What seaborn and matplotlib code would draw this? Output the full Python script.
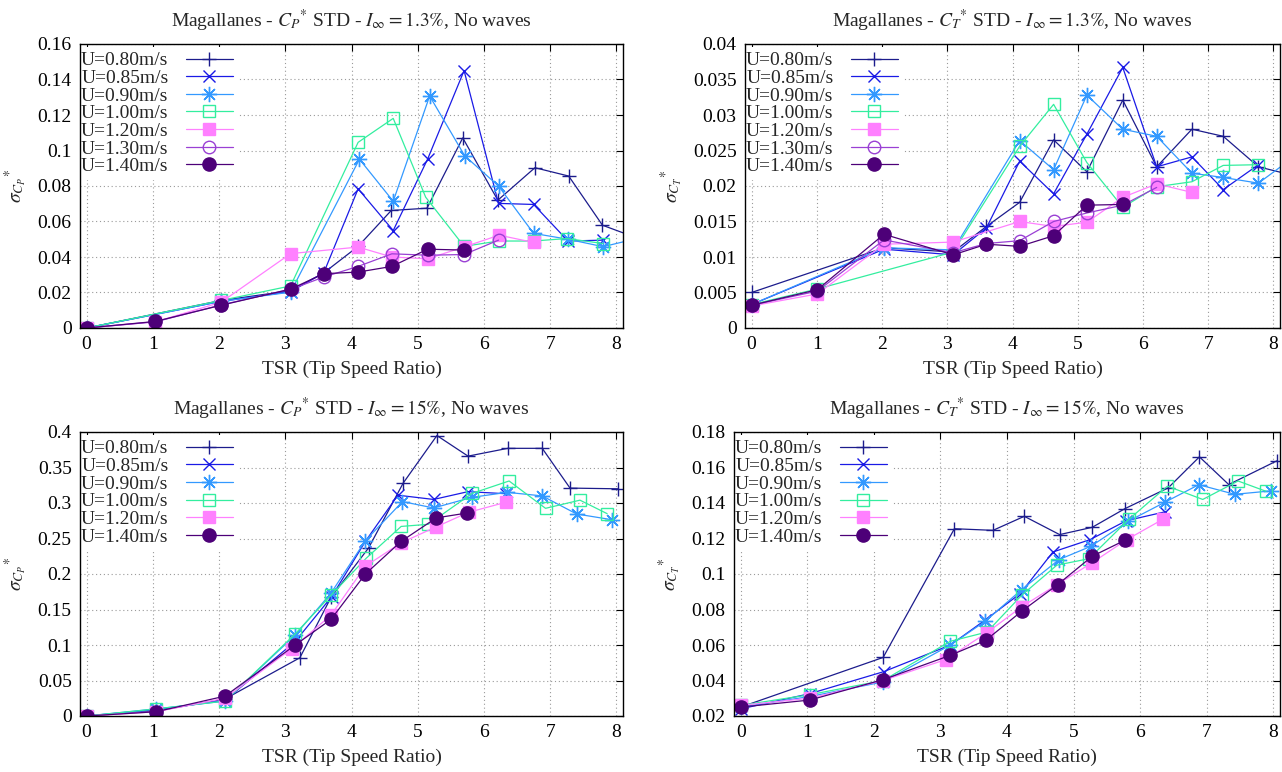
import matplotlib
matplotlib.use("Agg")
import matplotlib.pyplot as plt
import seaborn as sns
from matplotlib.ticker import MultipleLocator, FuncFormatter

# ---------------------------------------------------------------- data
SPEEDS = ["U=0.80m/s", "U=0.85m/s", "U=0.90m/s", "U=1.00m/s",
          "U=1.20m/s", "U=1.30m/s", "U=1.40m/s"]

# C_P* STD, I = 1.3 %
CP_LO_X_080 = [0, 2.03, 3.08, 3.58, 4.10, 4.60, 5.14, 5.68, 6.21, 6.77, 7.28, 7.79, 8.32]
CP_LO_Y_080 = [0, 0.0155, 0.0210, 0.0310, 0.0460, 0.0662, 0.0675, 0.1071, 0.0720, 0.0903, 0.0856, 0.0579, 0.0506]
CP_LO_X_085 = [0, 2.03, 3.08, 3.58, 4.10, 4.63, 5.15, 5.70, 6.22, 6.75, 7.27, 7.80]
CP_LO_Y_085 = [0, 0.0150, 0.0205, 0.0310, 0.0784, 0.0549, 0.0952, 0.1450, 0.0702, 0.0696, 0.0490, 0.0495]
CP_LO_X_090 = [0, 2.03, 3.08, 4.12, 4.63, 5.18, 5.71, 6.22, 6.75, 7.27, 7.80, 8.32]
CP_LO_Y_090 = [0, 0.0150, 0.0202, 0.0951, 0.0714, 0.1307, 0.0970, 0.0800, 0.0533, 0.0500, 0.0458, 0.0505]
CP_LO_X_100 = [0, 2.03, 3.08, 4.10, 4.63, 5.12, 5.70, 6.22, 6.75, 7.25, 7.80]
CP_LO_Y_100 = [0, 0.0155, 0.0237, 0.1046, 0.1181, 0.0737, 0.0460, 0.0490, 0.0490, 0.0504, 0.0476]
CP_LO_X_120 = [0, 1.04, 2.03, 3.08, 4.10, 4.61, 5.15, 5.71, 6.23, 6.75]
CP_LO_Y_120 = [0, 0.0035, 0.0145, 0.0419, 0.0456, 0.0400, 0.0390, 0.0458, 0.0523, 0.0482]
CP_LO_X_130 = [0, 1.04, 2.03, 3.10, 3.58, 4.10, 4.61, 5.15, 5.70, 6.22]
CP_LO_Y_130 = [0, 0.0035, 0.0130, 0.0220, 0.0287, 0.0347, 0.0418, 0.0410, 0.0414, 0.0495]
CP_LO_X_140 = [0, 1.04, 2.03, 3.08, 3.58, 4.10, 4.61, 5.15, 5.70]
CP_LO_Y_140 = [0, 0.0037, 0.0128, 0.0219, 0.0306, 0.0315, 0.0347, 0.0444, 0.0439]

# C_T* STD, I = 1.3 %
CT_LO_X_080 = [0, 2.03, 3.09, 3.60, 4.11, 4.63, 5.14, 5.69, 6.21, 6.75, 7.23, 7.77, 8.30]
CT_LO_Y_080 = [0.0050, 0.0113, 0.0107, 0.0143, 0.0177, 0.0265, 0.0220, 0.0321, 0.0227, 0.0280, 0.0270, 0.0227, 0.0215]
CT_LO_X_085 = [0, 2.03, 3.09, 3.60, 4.11, 4.63, 5.14, 5.69, 6.21, 6.75, 7.23, 7.77]
CT_LO_Y_085 = [0.0033, 0.0111, 0.0103, 0.0141, 0.0235, 0.0189, 0.0273, 0.0367, 0.0227, 0.0241, 0.0195, 0.0230]
CT_LO_X_090 = [0, 2.03, 3.09, 4.11, 4.63, 5.14, 5.69, 6.21, 6.75, 7.23, 7.77, 8.30]
CT_LO_Y_090 = [0.0033, 0.0113, 0.0110, 0.0264, 0.0223, 0.0328, 0.0280, 0.0270, 0.0218, 0.0212, 0.0204, 0.0240]
CT_LO_X_100 = [0, 1.01, 3.09, 4.11, 4.63, 5.14, 5.69, 6.21, 6.75, 7.23, 7.77]
CT_LO_Y_100 = [0.0033, 0.0055, 0.0107, 0.0256, 0.0315, 0.0233, 0.0170, 0.0199, 0.0206, 0.0229, 0.0230]
CT_LO_X_120 = [0, 1.01, 2.03, 3.09, 4.11, 4.63, 5.14, 5.69, 6.21, 6.75]
CT_LO_Y_120 = [0.0031, 0.0048, 0.0118, 0.0121, 0.0150, 0.0143, 0.0149, 0.0184, 0.0203, 0.0191]
CT_LO_X_130 = [0, 1.01, 2.03, 3.09, 3.60, 4.11, 4.63, 5.14, 5.69, 6.21]
CT_LO_Y_130 = [0.0032, 0.0052, 0.0124, 0.0106, 0.0119, 0.0123, 0.0150, 0.0162, 0.0173, 0.0198]
CT_LO_X_140 = [0, 1.01, 2.03, 3.09, 3.60, 4.11, 4.63, 5.14, 5.69]
CT_LO_Y_140 = [0.0032, 0.0054, 0.0132, 0.0103, 0.0118, 0.0115, 0.0130, 0.0173, 0.0174]

# C_P* STD, I = 15 %
CP_HI_X_080 = [0, 1.05, 2.09, 3.22, 3.69, 4.26, 4.78, 5.29, 5.76, 6.36, 6.88, 7.30, 8.02]
CP_HI_Y_080 = [0, 0.007, 0.024, 0.082, 0.167, 0.237, 0.328, 0.395, 0.366, 0.377, 0.377, 0.321, 0.320]
CP_HI_X_085 = [0, 1.05, 2.09, 3.15, 3.70, 4.21, 4.70, 5.24, 5.76, 6.34]
CP_HI_Y_085 = [0, 0.009, 0.022, 0.105, 0.168, 0.246, 0.311, 0.305, 0.316, 0.313]
CP_HI_X_090 = [0, 1.05, 2.09, 3.15, 3.69, 4.21, 4.77, 5.24, 5.82, 6.35, 6.88, 7.40, 7.93]
CP_HI_Y_090 = [0, 0.010, 0.021, 0.114, 0.173, 0.247, 0.302, 0.293, 0.308, 0.315, 0.310, 0.2845, 0.2765]
CP_HI_X_100 = [0, 1.05, 2.09, 3.15, 3.69, 4.22, 4.75, 5.16, 5.82, 6.38, 6.93, 7.45, 7.86]
CP_HI_Y_100 = [0, 0.010, 0.021, 0.1157, 0.170, 0.222, 0.267, 0.270, 0.3135, 0.331, 0.2925, 0.304, 0.285]
CP_HI_X_120 = [0, 1.05, 2.09, 3.10, 3.69, 4.21, 4.75, 5.27, 5.77, 6.33]
CP_HI_Y_120 = [0, 0.006, 0.025, 0.095, 0.142, 0.211, 0.244, 0.266, 0.287, 0.301]
CP_HI_X_140 = [0, 1.05, 2.09, 3.15, 3.69, 4.21, 4.75, 5.28, 5.75]
CP_HI_Y_140 = [0, 0.006, 0.028, 0.100, 0.136, 0.200, 0.246, 0.279, 0.286]

# C_T* STD, I = 15 %
CT_HI_X_080 = [0, 2.14, 3.21, 3.79, 4.26, 4.79, 5.28, 5.77, 6.42, 6.89, 7.33, 8.05]
CT_HI_Y_080 = [0.025, 0.053, 0.1255, 0.1246, 0.1325, 0.1222, 0.1263, 0.1368, 0.1485, 0.166, 0.1504, 0.1637]
CT_HI_X_085 = [0, 1.04, 2.15, 3.15, 3.67, 4.20, 4.69, 5.25, 5.79, 6.37]
CT_HI_Y_085 = [0.024, 0.0326, 0.045, 0.060, 0.074, 0.089, 0.1124, 0.1194, 0.130, 0.135]
CT_HI_X_090 = [0, 1.04, 2.14, 3.15, 3.67, 4.22, 4.78, 5.26, 5.82, 6.38, 6.88, 7.42, 7.96]
CT_HI_Y_090 = [0.025, 0.031, 0.0392, 0.060, 0.0733, 0.0912, 0.1081, 0.1156, 0.1297, 0.1406, 0.1503, 0.1449, 0.1468]
CT_HI_X_100 = [0, 1.04, 2.14, 3.15, 3.70, 4.22, 4.75, 5.23, 5.83, 6.41, 6.94, 7.47, 7.89]
CT_HI_Y_100 = [0.026, 0.032, 0.040, 0.0621, 0.0673, 0.088, 0.105, 0.1086, 0.1308, 0.1495, 0.142, 0.1524, 0.1466]
CT_HI_X_120 = [0, 1.04, 2.14, 3.08, 3.70, 4.22, 4.75, 5.28, 5.80, 6.34]
CT_HI_Y_120 = [0.026, 0.030, 0.040, 0.0518, 0.067, 0.0815, 0.094, 0.1064, 0.1194, 0.1308]
CT_HI_X_140 = [0, 1.04, 2.14, 3.15, 3.68, 4.22, 4.76, 5.28, 5.77]
CT_HI_Y_140 = [0.025, 0.029, 0.0405, 0.0542, 0.0626, 0.079, 0.094, 0.110, 0.119]

TITLES = [
    r"Magallanes - $C_P{}^{*}$ STD - $I_\infty = 1.3\%$, No waves",
    r"Magallanes - $C_T{}^{*}$ STD - $I_\infty = 1.3\%$, No waves",
    r"Magallanes - $C_P{}^{*}$ STD - $I_\infty = 15\%$, No waves",
    r"Magallanes - $C_T{}^{*}$ STD - $I_\infty = 15\%$, No waves",
]
YLABELS = [r"$\sigma_{C_P}{}^{*}$", r"$\sigma_{C_T}{}^{*}$",
           r"$\sigma_{C_P}{}^{*}$", r"$\sigma_{C_T}{}^{*}$"]
XLABEL = "TSR (Tip Speed Ratio)"

# ---------------------------------------------------------------- style
sns.set_theme(style="white")
plt.rcParams["font.family"] = ["Liberation Serif", "DejaVu Serif"]
plt.rcParams["mathtext.fontset"] = "stix"
FS = 14

STYLE = {
    "U=0.80m/s": dict(color="#1c1c8c", marker="+", ms=10, fill=True),
    "U=0.85m/s": dict(color="#1a1ae6", marker="x", ms=9, fill=True),
    "U=0.90m/s": dict(color="#3399ff", marker=(8, 2, 0), ms=11, fill=True),
    "U=1.00m/s": dict(color="#33ee9f", marker="s", ms=8.5, fill=False),
    "U=1.20m/s": dict(color="#ff80ff", marker="s", ms=9, fill=True),
    "U=1.30m/s": dict(color="#9a40d4", marker="o", ms=9, fill=False),
    "U=1.40m/s": dict(color="#4d0078", marker="o", ms=9.5, fill=True),
}

panels = [
    dict(series=[(SPEEDS[0], CP_LO_X_080, CP_LO_Y_080), (SPEEDS[1], CP_LO_X_085, CP_LO_Y_085),
                 (SPEEDS[2], CP_LO_X_090, CP_LO_Y_090), (SPEEDS[3], CP_LO_X_100, CP_LO_Y_100),
                 (SPEEDS[4], CP_LO_X_120, CP_LO_Y_120), (SPEEDS[5], CP_LO_X_130, CP_LO_Y_130),
                 (SPEEDS[6], CP_LO_X_140, CP_LO_Y_140)],
         ylim=(0, 0.16), ystep=0.02, box=(80, 623, 44, 328)),
    dict(series=[(SPEEDS[0], CT_LO_X_080, CT_LO_Y_080), (SPEEDS[1], CT_LO_X_085, CT_LO_Y_085),
                 (SPEEDS[2], CT_LO_X_090, CT_LO_Y_090), (SPEEDS[3], CT_LO_X_100, CT_LO_Y_100),
                 (SPEEDS[4], CT_LO_X_120, CT_LO_Y_120), (SPEEDS[5], CT_LO_X_130, CT_LO_Y_130),
                 (SPEEDS[6], CT_LO_X_140, CT_LO_Y_140)],
         ylim=(0, 0.04), ystep=0.005, box=(745, 1280, 44, 328)),
    dict(series=[(SPEEDS[0], CP_HI_X_080, CP_HI_Y_080), (SPEEDS[1], CP_HI_X_085, CP_HI_Y_085),
                 (SPEEDS[2], CP_HI_X_090, CP_HI_Y_090), (SPEEDS[3], CP_HI_X_100, CP_HI_Y_100),
                 (SPEEDS[4], CP_HI_X_120, CP_HI_Y_120), (SPEEDS[6], CP_HI_X_140, CP_HI_Y_140)],
         ylim=(0, 0.4), ystep=0.05, box=(80, 623, 432, 716)),
    dict(series=[(SPEEDS[0], CT_HI_X_080, CT_HI_Y_080), (SPEEDS[1], CT_HI_X_085, CT_HI_Y_085),
                 (SPEEDS[2], CT_HI_X_090, CT_HI_Y_090), (SPEEDS[3], CT_HI_X_100, CT_HI_Y_100),
                 (SPEEDS[4], CT_HI_X_120, CT_HI_Y_120), (SPEEDS[6], CT_HI_X_140, CT_HI_Y_140)],
         ylim=(0.02, 0.18), ystep=0.02, box=(734, 1280, 432, 716)),
]

W, H = 1282, 772
fig = plt.figure(figsize=(W / 100, H / 100), dpi=100)
fmt = FuncFormatter(lambda v, _: f"{round(v, 6):g}")

for i, p in enumerate(panels):
    l, r, t, b = p["box"]
    ax = fig.add_axes([l / W, 1 - b / H, (r - l) / W, (b - t) / H])
    for name, xs, ys in p["series"]:
        st = STYLE[name]
        sns.lineplot(x=xs, y=ys, ax=ax, sort=False, label=name,
                     color=st["color"], linewidth=0.9,
                     marker=st["marker"], markersize=st["ms"],
                     markeredgecolor=st["color"], markeredgewidth=1.0,
                     markerfacecolor=st["color"] if st["fill"] else "none")
    ax.set_xlim(-0.1, 8.1)
    ax.set_ylim(*p["ylim"])
    ax.xaxis.set_major_locator(MultipleLocator(1))
    ax.yaxis.set_major_locator(MultipleLocator(p["ystep"]))
    ax.yaxis.set_major_formatter(fmt)
    ax.tick_params(direction="in", top=True, right=True, length=5, width=0.8,
                   labelsize=FS, colors="black", pad=6)
    ax.grid(True, linestyle=(0, (1, 2.5)), color="#9a9a9a", linewidth=0.8)
    for sp in ax.spines.values():
        sp.set_color("black")
        sp.set_linewidth(1.0)
        sp.set_zorder(10)
    ax.set_title(TITLES[i], fontsize=FS, pad=12)
    ax.set_xlabel(XLABEL, fontsize=FS, labelpad=5)
    ax.set_ylabel(YLABELS[i], fontsize=FS, labelpad=6)
    axw = (r - l)
    axh = (b - t)
    leg = ax.legend(loc="upper left", bbox_to_anchor=(-4 / axw, 1 - 3 / axh),
                    borderaxespad=0.0,
                    markerfirst=False, fontsize=FS, frameon=True, fancybox=False,
                    framealpha=1.0, facecolor="white", edgecolor="none",
                    borderpad=0.25, labelspacing=0.0, handlelength=2.4,
                    handletextpad=0.9)
    leg.set_zorder(5)

fig.savefig("out.png", dpi=100)
